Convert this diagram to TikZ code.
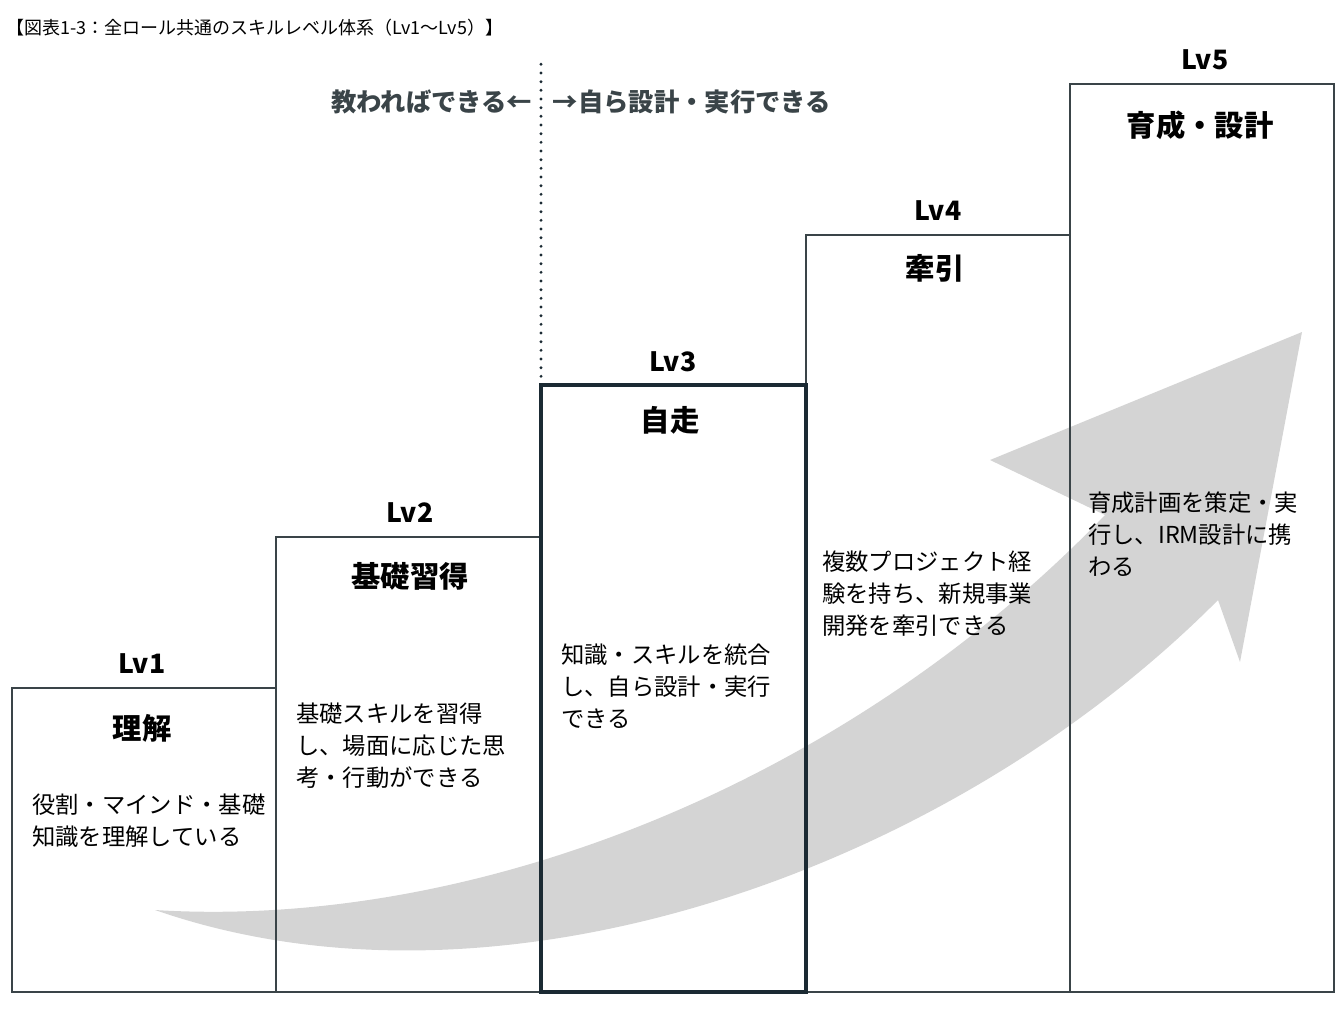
\documentclass[tikz,border=0pt]{standalone}
\usepackage{fontspec}
\setmainfont{Noto Sans CJK JP}
\usetikzlibrary{positioning}
\definecolor{boxline}{HTML}{3A4448}
\definecolor{boxdark}{HTML}{1B2A33}
\definecolor{arrowgray}{HTML}{D4D4D4}
\tikzset{
    stair/.style={draw=boxline, line width=1.3pt},
    lvlabel/.style={font=\fontsize{20}{24}\selectfont\bfseries, anchor=center},
    lvname/.style={font=\fontsize{22}{26}\selectfont\bfseries, anchor=center},
    desc/.style={font=\fontsize{17.5}{24}\selectfont, anchor=north west, align=left, inner sep=0pt}
}
\begin{document}
\begin{tikzpicture}[x=0.75pt, y=-0.75pt]
\useasboundingbox (0,0) rectangle (1344,1008);

% growth arrow
\fill[arrowgray] (155,910) .. controls (500,1030) and (950,870) .. (1218,600)
    -- (1240,662) -- (1302,332) -- (990,460) -- (1105,515)
    .. controls (850,780) and (480,930) .. (155,910) -- cycle;

% steps
\draw[stair] (12,992) rectangle (276,688);
\draw[stair] (276,992) rectangle (540,537);
\draw[stair] (806,992) rectangle (1070,235);
\draw[stair] (1070,992) rectangle (1334,84);
\draw[draw=boxdark, line width=3pt] (541,992) rectangle (806,385);

% divider
\draw[line width=2.4pt, line cap=round, dash pattern=on 0pt off 6.5pt, boxdark] (541,385) -- (541,58);
\node[font=\fontsize{19}{22}\selectfont\bfseries, text=boxline, anchor=east] (learn) at (537,102) {教わればできる←};
\node[font=\fontsize{19}{22}\selectfont\bfseries, text=boxline, anchor=west] (self) at (548,102) {→自ら設計・実行できる};

% title
\node[font=\fontsize{13.5}{16}\selectfont, anchor=west, inner sep=0pt] (title) at (6,28) {【図表1-3：全ロール共通のスキルレベル体系（Lv1〜Lv5）】};

% labels
\node[lvlabel] (lv1) at (142,664) {Lv1};
\node[lvname] (n1) at (142,728) {理解};
\node[desc] (d1) at (32,794) {役割・マインド・基礎\\知識を理解している};

\node[lvlabel] (lv2) at (410,513) {Lv2};
\node[lvname] (n2) at (410,576) {基礎習得};
\node[desc] (d2) at (296,703) {基礎スキルを習得\\し、場面に応じた思\\考・行動ができる};

\node[lvlabel] (lv3) at (673,362) {Lv3};
\node[lvname] (n3) at (670,420) {自走};
\node[desc] (d3) at (561,644) {知識・スキルを統合\\し、自ら設計・実行\\できる};

\node[lvlabel] (lv4) at (938,211) {Lv4};
\node[lvname] (n4) at (935,268) {牽引};
\node[desc] (d4) at (822,551) {複数プロジェクト経\\験を持ち、新規事業\\開発を牽引できる};

\node[lvlabel] (lv5) at (1205,60) {Lv5};
\node[lvname] (n5) at (1200,125) {育成・設計};
\node[desc] (d5) at (1088,492) {育成計画を策定・実\\行し、IRM設計に携\\わる};
\end{tikzpicture}
\end{document}
